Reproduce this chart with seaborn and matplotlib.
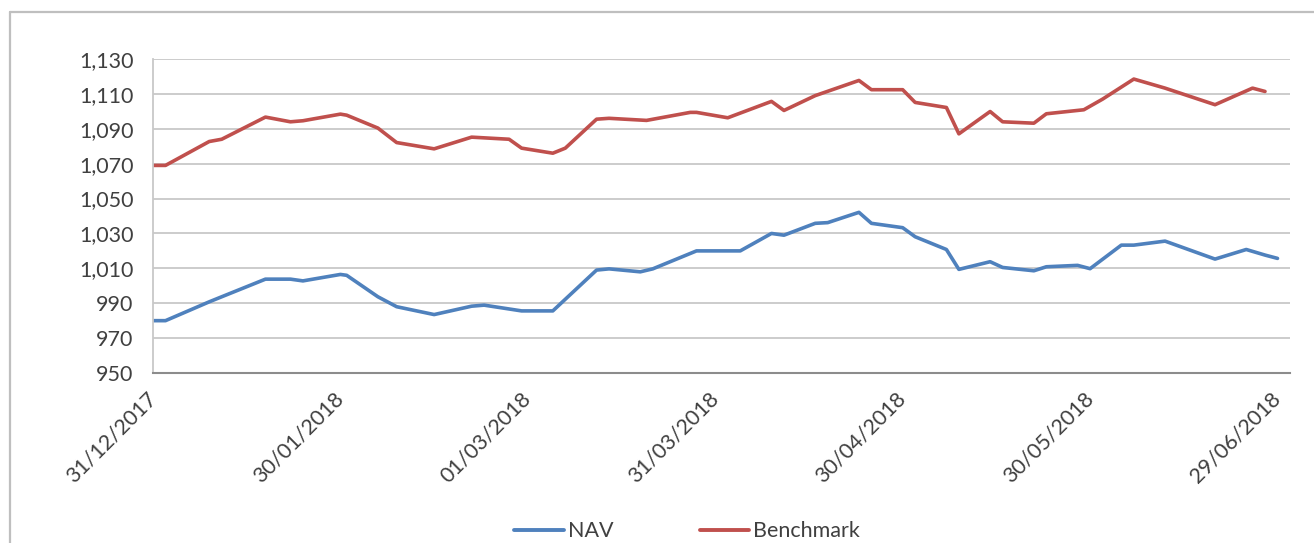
import pandas as pd
import numpy as np
import matplotlib.pyplot as plt
import matplotlib.ticker as mticker
import matplotlib.dates as mdates
from matplotlib.lines import Line2D
import seaborn as sns

# datos (NAV vs Benchmark, 1S 2018)
fechas_nav = ['2017-12-31', '2018-01-02', '2018-01-09', '2018-01-11', '2018-01-18', '2018-01-22',
              '2018-01-24', '2018-01-30', '2018-01-31', '2018-02-05', '2018-02-08', '2018-02-14',
              '2018-02-20', '2018-02-22', '2018-02-28', '2018-03-05', '2018-03-12', '2018-03-14',
              '2018-03-19', '2018-03-21', '2018-03-28', '2018-04-04', '2018-04-09', '2018-04-11',
              '2018-04-16', '2018-04-18', '2018-04-23', '2018-04-25', '2018-04-30', '2018-05-02',
              '2018-05-07', '2018-05-09', '2018-05-14', '2018-05-16', '2018-05-21', '2018-05-23',
              '2018-05-28', '2018-05-30', '2018-06-04', '2018-06-06', '2018-06-11', '2018-06-19',
              '2018-06-24', '2018-06-27', '2018-06-29']
valores_nav = [980, 980, 990.8, 993.7, 1003.8, 1003.8,
               1002.8, 1006.5, 1006, 993.7, 988, 983.5,
               988.3, 988.9, 985.6, 985.6, 1009, 1009.7,
               1008, 1009.7, 1020, 1020, 1030, 1029,
               1035.8, 1036.2, 1042.1, 1035.8, 1033.3, 1028.1,
               1020.8, 1009.4, 1013.8, 1010.5, 1008.6, 1010.9,
               1011.7, 1009.8, 1023.3, 1023.3, 1025.6, 1015.3,
               1020.8, 1017.6, 1015.7]

fechas_bench = ['2017-12-31', '2018-01-02', '2018-01-09', '2018-01-11', '2018-01-18', '2018-01-22',
                '2018-01-24', '2018-01-30', '2018-01-31', '2018-02-05', '2018-02-08', '2018-02-14',
                '2018-02-20', '2018-02-26', '2018-02-28', '2018-03-05', '2018-03-07', '2018-03-12',
                '2018-03-14', '2018-03-20', '2018-03-27', '2018-03-28', '2018-04-02', '2018-04-09',
                '2018-04-11', '2018-04-16', '2018-04-23', '2018-04-25', '2018-04-30', '2018-05-02',
                '2018-05-07', '2018-05-09', '2018-05-14', '2018-05-16', '2018-05-21', '2018-05-23',
                '2018-05-29', '2018-06-01', '2018-06-06', '2018-06-11', '2018-06-19', '2018-06-25',
                '2018-06-27']
valores_bench = [1069, 1069, 1082.7, 1084, 1096.7, 1094,
                 1094.6, 1098.4, 1097.8, 1090.4, 1082.1, 1078.5,
                 1085.2, 1084, 1078.9, 1076, 1078.9, 1095.5,
                 1096, 1094.8, 1099.4, 1099.4, 1096.3, 1105.7,
                 1100.5, 1109, 1117.7, 1112.4, 1112.4, 1105.1,
                 1102.2, 1087.1, 1099.9, 1094, 1093.2, 1098.6,
                 1100.9, 1107, 1118.5, 1113.3, 1103.8, 1113.3,
                 1111.4]

fechas_ticks = ['2017-12-31', '2018-01-30', '2018-03-01', '2018-03-31',
                '2018-04-30', '2018-05-30', '2018-06-29']
ticks_y = [950, 970, 990, 1010, 1030, 1050, 1070, 1090, 1110, 1130]

colores = {'NAV': '#4F81BD', 'Benchmark': '#C0504D'}

df = pd.concat([
    pd.DataFrame({'fecha': pd.to_datetime(fechas_nav), 'valor': valores_nav, 'serie': 'NAV'}),
    pd.DataFrame({'fecha': pd.to_datetime(fechas_bench), 'valor': valores_bench, 'serie': 'Benchmark'}),
])

sns.set_style('white')
plt.rcParams['font.family'] = ['Lato', 'DejaVu Sans']

fig = plt.figure(figsize=(13.14, 5.43), dpi=100)
ax = fig.add_axes([153 / 1314, 1 - 373 / 543, (1290 - 153) / 1314, (373 - 59) / 543])

sns.lineplot(data=df, x='fecha', y='valor', hue='serie', palette=colores, linewidth=2.6,
             ax=ax, legend=False, estimator=None, sort=True)

ax.set_ylim(950, 1130)
ax.set_xlim(pd.Timestamp('2017-12-31'), pd.Timestamp('2018-07-01'))
ax.set_yticks(ticks_y)
ax.yaxis.set_major_formatter(mticker.FuncFormatter(lambda v, p: f'{v:,.0f}'))
ax.set_xticks(pd.to_datetime(fechas_ticks))
ax.xaxis.set_major_formatter(mdates.DateFormatter('%d/%m/%Y'))
ax.grid(axis='y', color='#C8C8C8', linewidth=1.3)
ax.set_axisbelow(True)
ax.set_xlabel('')
ax.set_ylabel('')

for s in ['top', 'right']:
    ax.spines[s].set_visible(False)
ax.spines['left'].set_color('#C8C8C8')
ax.spines['left'].set_linewidth(1.3)
ax.spines['bottom'].set_color('#8C8C8C')
ax.spines['bottom'].set_linewidth(1.5)

ax.tick_params(axis='y', length=0, pad=14, labelsize=15.5, labelcolor='#404040')
ax.tick_params(axis='x', length=0, pad=16, labelsize=15.5, labelcolor='#404040')
plt.setp(ax.get_xticklabels(), rotation=45, ha='right', va='center', rotation_mode='anchor')

# leyenda abajo al centro
handles = [Line2D([0], [0], color=colores['NAV'], lw=2.8),
           Line2D([0], [0], color=colores['Benchmark'], lw=2.8)]
fig.legend(handles, ['NAV', 'Benchmark'], loc='center', bbox_to_anchor=(0.523, 0.022), ncol=2,
           frameon=False, fontsize=15.5, handlelength=2.3, handletextpad=0.2, columnspacing=4.0,
           labelcolor='#404040')

# borde del area del grafico
fig.add_artist(Line2D([10 / 1314, 10 / 1314], [0, 1 - 12 / 543], transform=fig.transFigure,
                      color='#BFBFBF', lw=1.6))
fig.add_artist(Line2D([10 / 1314, 1], [1 - 12 / 543, 1 - 12 / 543], transform=fig.transFigure,
                      color='#BFBFBF', lw=1.6))

fig.savefig('out.png', dpi=100)
